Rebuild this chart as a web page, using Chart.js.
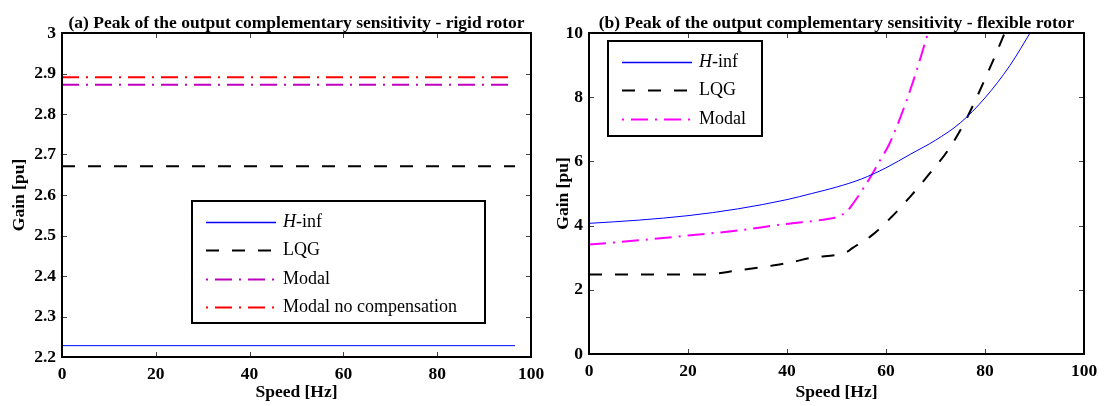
<!DOCTYPE html>
<html>
<head>
<meta charset="utf-8">
<script src="https://cdn.jsdelivr.net/npm/chart.js@4.4.1/dist/chart.umd.min.js"></script>
<style>
  html, body { margin: 0; padding: 0; background: #fff; }
  #wrap { position: relative; width: 1106px; height: 406px; overflow: hidden; }
  #rigid { position: absolute; left: 0; top: 0; width: 545px; height: 406px; }
  #flex { position: absolute; left: 545px; top: 0; width: 561px; height: 406px; }
</style>
</head>
<body>
<div id="wrap">
  <canvas id="rigid" width="545" height="406"></canvas>
  <canvas id="flex" width="561" height="406"></canvas>
</div>
<script>
// --- DATA ---

// (a) rigid rotor: every controller is flat over the speed range
const rigidSpeed = [0, 96.6];
const rigidHinf = [2.228, 2.228];
const rigidLqg = [2.671, 2.671];
const rigidModal = [2.872, 2.872];
const rigidModalNoComp = [2.891, 2.891];
const rigidSpeedTicks = [0, 20, 40, 60, 80, 100];
const rigidGainTicks = [2.2, 2.3, 2.4, 2.5, 2.6, 2.7, 2.8, 2.9, 3];

// (b) flexible rotor
const flexHinfSpeed = [0, 10, 20, 30, 40, 45, 50, 55, 60, 65, 70, 75, 80, 85, 89.5];
const flexHinf = [4.07, 4.17, 4.31, 4.52, 4.81, 5.0, 5.2, 5.45, 5.8, 6.23, 6.66, 7.2, 7.98, 8.98, 10.1];
const flexLqgSpeed = [0, 10, 23.5, 30, 36, 40, 45, 52.2, 53.2, 57, 61, 65, 68.7, 72.4, 75.8, 80.5, 84.2, 86];
const flexLqg = [2.48, 2.48, 2.48, 2.6, 2.73, 2.83, 3.0, 3.19, 3.3, 3.68, 4.25, 4.92, 5.6, 6.32, 7.19, 8.74, 10.09, 10.8];
const flexModalSpeed = [0, 10, 19.4, 29.6, 39.7, 48.8, 50.1, 52.2, 53.5, 55.5, 57.2, 58.9, 60.6, 62.6, 65.5, 68.7, 70];
const flexModal = [3.41, 3.54, 3.68, 3.84, 4.05, 4.22, 4.27, 4.46, 4.72, 5.18, 5.6, 6.06, 6.52, 7.25, 8.5, 10.1, 10.7];
const flexSpeedTicks = [0, 20, 40, 60, 80, 100];
const flexGainTicks = [0, 2, 4, 6, 8, 10];

const seriesLabels = ['H-inf', 'LQG', 'Modal', 'Modal no compensation'];

// --- helpers ---
const SERIF = '"Liberation Serif", "Times New Roman", serif';
const axisFont = { family: SERIF, size: 17.5, weight: 'bold' };

const pts = (xs, ys) => xs.map((x, i) => ({ x, y: ys[i] }));
const tickList = arr => s => { s.ticks = arr.map(v => ({ value: v })); };

// MATLAB-like box with inward ticks on all four sides
const boxAxes = {
    id: 'boxAxes',
    afterDatasetsDraw(chart) {
        const { ctx, chartArea: a, scales: { x, y } } = chart;
        ctx.save();
        ctx.strokeStyle = '#444';
        ctx.lineWidth = 1;
        ctx.beginPath();
        x.ticks.forEach(t => {
            const px = Math.round(x.getPixelForValue(t.value)) + 0.5;
            ctx.moveTo(px, a.bottom); ctx.lineTo(px, a.bottom - 5);
            ctx.moveTo(px, a.top); ctx.lineTo(px, a.top + 5);
        });
        y.ticks.forEach(t => {
            const py = Math.round(y.getPixelForValue(t.value)) + 0.5;
            ctx.moveTo(a.left, py); ctx.lineTo(a.left + 5, py);
            ctx.moveTo(a.right, py); ctx.lineTo(a.right - 5, py);
        });
        ctx.stroke();
        ctx.strokeStyle = '#000';
        ctx.lineWidth = 2;
        ctx.strokeRect(a.left, a.top, a.right - a.left, a.bottom - a.top);
        ctx.restore();
    }
};

// title centred on the plot area (not the canvas)
const panelTitle = {
    id: 'panelTitle',
    afterDraw(chart, args, opts) {
        const { ctx, chartArea: a } = chart;
        ctx.save();
        ctx.font = 'bold 17.5px ' + SERIF;
        ctx.fillStyle = '#000';
        ctx.textAlign = 'center';
        ctx.textBaseline = 'alphabetic';
        ctx.fillText(opts.text, (a.left + a.right) / 2, opts.baseline);
        ctx.restore();
    }
};

// boxed legend sitting inside the axes
const boxLegend = {
    id: 'boxLegend',
    afterDraw(chart, args, opts) {
        const { ctx, chartArea: a } = chart;
        const x0 = a.left + opts.left, y0 = a.top + opts.top;
        ctx.save();
        ctx.fillStyle = '#fff';
        ctx.fillRect(x0, y0, opts.width, opts.height);
        ctx.strokeStyle = '#000';
        ctx.lineWidth = 2;
        ctx.strokeRect(x0, y0, opts.width, opts.height);

        chart.data.datasets.forEach((ds, i) => {
            const ry = Math.round(y0 + 20.5 + i * 28.5) + 0.5;
            const lx = x0 + 14, len = 70;
            ctx.strokeStyle = ds.borderColor;
            ctx.lineWidth = Math.max(ds.borderWidth, 1.5);
            const dash = ds.borderDash || [];
            ctx.setLineDash(dash);
            ctx.lineDashOffset = dash.length > 2 ? dash[0] + dash[1] : 0;
            ctx.beginPath();
            ctx.moveTo(lx, ry); ctx.lineTo(lx + len, ry);
            ctx.stroke();
            ctx.setLineDash([]);

            ctx.fillStyle = '#000';
            ctx.textBaseline = 'middle';
            ctx.textAlign = 'left';
            let tx = lx + len + 7;
            let label = ds.label;
            if (label.startsWith('H-')) {
                ctx.font = 'italic 18px ' + SERIF;
                ctx.fillText('H', tx, ry);
                tx += ctx.measureText('H').width;
                label = label.slice(1);
            }
            ctx.font = '18px ' + SERIF;
            ctx.fillText(label, tx, ry);
        });
        ctx.restore();
    }
};

function axisOptions(speedTicks, gainTicks, gainMin, gainMax, xHeight, yWidth, yTitlePad) {
    return {
        x: {
            type: 'linear', min: 0, max: 100,
            afterBuildTicks: tickList(speedTicks),
            afterFit: s => { s.height = xHeight; s.paddingLeft = 0; s.paddingRight = 0; },
            grid: { display: false, drawTicks: false },
            border: { display: false },
            ticks: { font: axisFont, color: '#000', padding: 7, maxRotation: 0, autoSkip: false },
            title: { display: true, text: 'Speed [Hz]', font: axisFont, color: '#000', padding: { top: 0, bottom: 3.5 } }
        },
        y: {
            type: 'linear', min: gainMin, max: gainMax,
            afterBuildTicks: tickList(gainTicks),
            afterFit: s => { s.width = yWidth; s.paddingTop = 0; s.paddingBottom = 0; },
            grid: { display: false, drawTicks: false },
            border: { display: false },
            ticks: { font: axisFont, color: '#000', padding: 6, autoSkip: false, callback: v => String(v) },
            title: { display: true, text: 'Gain [pu]', font: axisFont, color: '#000', padding: { top: yTitlePad, bottom: 0 } }
        }
    };
}

const lineDefaults = { pointRadius: 0, fill: false, clip: 0, cubicInterpolationMode: 'monotone' };
const DASH = [13, 13];
const DASH_DOT = [17, 7, 2, 7];

// --- (a) rigid rotor ---
new Chart(document.getElementById('rigid'), {
    type: 'line',
    data: {
        datasets: [
            { ...lineDefaults, label: seriesLabels[0], data: pts(rigidSpeed, rigidHinf), borderColor: '#0000ff', borderWidth: 1 },
            { ...lineDefaults, label: seriesLabels[1], data: pts(rigidSpeed, rigidLqg), borderColor: '#000000', borderWidth: 2, borderDash: DASH },
            { ...lineDefaults, label: seriesLabels[2], data: pts(rigidSpeed, rigidModal), borderColor: '#bf00bf', borderWidth: 2, borderDash: DASH_DOT },
            { ...lineDefaults, label: seriesLabels[3], data: pts(rigidSpeed, rigidModalNoComp), borderColor: '#ff0000', borderWidth: 2, borderDash: DASH_DOT }
        ]
    },
    options: {
        responsive: false,
        animation: false,
        layout: { padding: { top: 33, right: 14, bottom: 0, left: 0 } },
        scales: axisOptions(rigidSpeedTicks, rigidGainTicks, 2.2, 3, 49, 62, 9),
        plugins: {
            legend: { display: false },
            tooltip: { enabled: false },
            panelTitle: { text: '(a) Peak of the output complementary sensitivity - rigid rotor', baseline: 28 },
            boxLegend: { left: 130, top: 168, width: 293, height: 122 }
        }
    },
    plugins: [boxAxes, panelTitle, boxLegend]
});

// --- (b) flexible rotor ---
new Chart(document.getElementById('flex'), {
    type: 'line',
    data: {
        datasets: [
            { ...lineDefaults, label: seriesLabels[0], data: pts(flexHinfSpeed, flexHinf), borderColor: '#0000ff', borderWidth: 1 },
            { ...lineDefaults, label: seriesLabels[1], data: pts(flexLqgSpeed, flexLqg), borderColor: '#000000', borderWidth: 2, borderDash: DASH },
            { ...lineDefaults, label: seriesLabels[2], data: pts(flexModalSpeed, flexModal), borderColor: '#ff00ff', borderWidth: 2, borderDash: DASH_DOT }
        ]
    },
    options: {
        responsive: false,
        animation: false,
        layout: { padding: { top: 33, right: 22, bottom: 0, left: 0 } },
        scales: axisOptions(flexSpeedTicks, flexGainTicks, 0, 10, 52, 44, 8),
        plugins: {
            legend: { display: false },
            tooltip: { enabled: false },
            panelTitle: { text: '(b) Peak of the output complementary sensitivity - flexible rotor', baseline: 28 },
            boxLegend: { left: 19, top: 8, width: 154, height: 95 }
        }
    },
    plugins: [boxAxes, panelTitle, boxLegend]
});
</script>
</body>
</html>
